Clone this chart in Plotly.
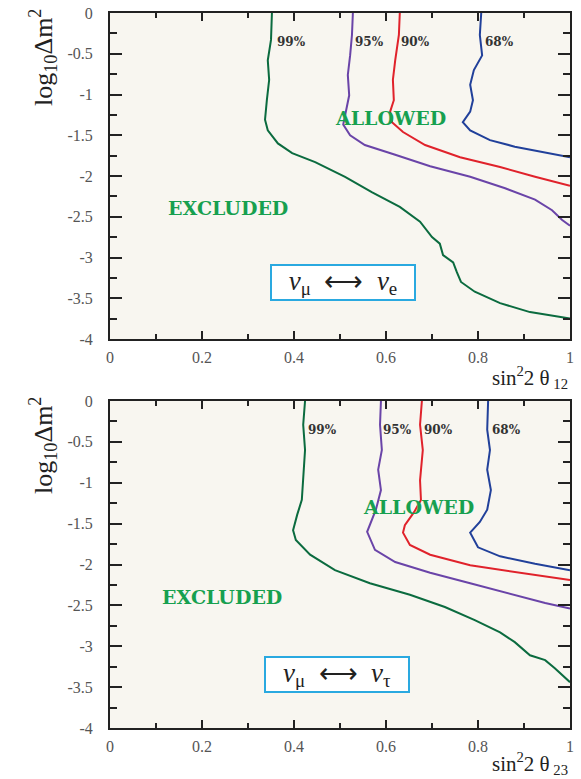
import plotly.graph_objects as go

# ---------------- data (sin^2 2theta, log10 dm^2) ----------------
levels = ["99%", "95%", "90%", "68%"]
colors = ["#0b6b3f", "#6a44a8", "#e0222b", "#21409a"]

# top panel: nu_mu <-> nu_e
top_99_x = [0.352, 0.350, 0.343, 0.346, 0.341, 0.337, 0.343, 0.365, 0.396, 0.446, 0.511, 0.570, 0.630,
            0.674, 0.700, 0.717, 0.724, 0.746, 0.754, 0.763, 0.793, 0.848, 0.913, 1.0]
top_99_y = [0.0, -0.33, -0.58, -0.82, -1.07, -1.31, -1.44, -1.60, -1.72, -1.83, -2.01, -2.20, -2.38,
            -2.56, -2.75, -2.83, -2.97, -3.06, -3.18, -3.30, -3.42, -3.56, -3.67, -3.75]
top_95_x = [0.528, 0.526, 0.522, 0.517, 0.520, 0.511, 0.507, 0.522, 0.554, 0.620, 0.696, 0.783, 0.859,
            0.924, 0.961, 0.983, 1.0]
top_95_y = [0.0, -0.27, -0.52, -0.76, -1.01, -1.25, -1.37, -1.50, -1.62, -1.74, -1.88, -2.01, -2.15,
            -2.29, -2.42, -2.54, -2.61]
top_90_x = [0.630, 0.628, 0.620, 0.615, 0.617, 0.609, 0.613, 0.637, 0.685, 0.761, 0.848, 0.924, 1.0]
top_90_y = [0.0, -0.27, -0.58, -0.82, -1.07, -1.21, -1.34, -1.46, -1.62, -1.77, -1.89, -2.01, -2.12]
top_68_x = [0.807, 0.804, 0.809, 0.791, 0.783, 0.789, 0.783, 0.767, 0.783, 0.826, 0.880, 0.946, 1.0]
top_68_y = [0.0, -0.27, -0.52, -0.70, -0.88, -1.07, -1.21, -1.34, -1.44, -1.56, -1.64, -1.71, -1.77]

# bottom panel: nu_mu <-> nu_tau
bot_99_x = [0.424, 0.420, 0.424, 0.420, 0.417, 0.407, 0.398, 0.404, 0.435, 0.489, 0.565, 0.652, 0.728,
            0.793, 0.848, 0.880, 0.913, 0.946, 0.967, 1.0]
bot_99_y = [0.0, -0.29, -0.60, -0.91, -1.21, -1.39, -1.58, -1.70, -1.88, -2.07, -2.23, -2.37, -2.52,
            -2.68, -2.83, -2.95, -3.11, -3.17, -3.27, -3.44]
bot_95_x = [0.589, 0.587, 0.591, 0.583, 0.589, 0.578, 0.559, 0.576, 0.620, 0.696, 0.783, 0.870, 0.946, 1.0]
bot_95_y = [0.0, -0.29, -0.60, -0.84, -1.09, -1.33, -1.60, -1.82, -1.97, -2.10, -2.23, -2.36, -2.47, -2.54]
bot_90_x = [0.678, 0.674, 0.680, 0.674, 0.676, 0.661, 0.641, 0.637, 0.652, 0.696, 0.783, 0.891, 1.0]
bot_90_y = [0.0, -0.29, -0.60, -0.97, -1.21, -1.36, -1.52, -1.61, -1.76, -1.88, -2.01, -2.10, -2.19]
bot_68_x = [0.822, 0.820, 0.826, 0.820, 0.828, 0.820, 0.804, 0.783, 0.800, 0.848, 0.924, 1.0]
bot_68_y = [0.0, -0.35, -0.60, -0.84, -1.09, -1.33, -1.48, -1.61, -1.79, -1.90, -1.99, -2.07]

# level label positions (x at label centre)
top_label_x = [0.394, 0.565, 0.665, 0.846]
bot_label_x = [0.461, 0.624, 0.715, 0.863]
label_y = -0.36

x_ticks = [0, 0.2, 0.4, 0.6, 0.8, 1.0]
x_ticktext = ["0", "0.2", "0.4", "0.6", "0.8", "1"]
y_ticks = [0, -0.5, -1, -1.5, -2, -2.5, -3, -3.5, -4]
y_ticktext = ["0", "-0.5", "-1", "-1.5", "-2", "-2.5", "-3", "-3.5", "-4"]

# ---------------- figure ----------------
W, H = 581, 779
fig = go.Figure()

top_curves = [(top_99_x, top_99_y), (top_95_x, top_95_y), (top_90_x, top_90_y), (top_68_x, top_68_y)]
bot_curves = [(bot_99_x, bot_99_y), (bot_95_x, bot_95_y), (bot_90_x, bot_90_y), (bot_68_x, bot_68_y)]

for (cx, cy), col in zip(top_curves, colors):
    fig.add_trace(go.Scatter(x=cx, y=cy, mode="lines", line=dict(color=col, width=2),
                             xaxis="x", yaxis="y", showlegend=False, hoverinfo="skip"))
for (cx, cy), col in zip(bot_curves, colors):
    fig.add_trace(go.Scatter(x=cx, y=cy, mode="lines", line=dict(color=col, width=2),
                             xaxis="x2", yaxis="y2", showlegend=False, hoverinfo="skip"))

serif = "Liberation Serif"
bold_serif = "DejaVu Serif"

def xax(anchor, domain):
    return dict(domain=domain, anchor=anchor, range=[0, 1], tickvals=x_ticks, ticktext=x_ticktext,
                ticks="inside", ticklen=8, tickwidth=1.5, tickcolor="#222", mirror="allticks",
                showline=True, linecolor="#222", linewidth=2, showgrid=False, zeroline=False,
                automargin=False, ticklabelstandoff=3,
                minor=dict(dtick=0.1, ticks="inside", ticklen=5, tickwidth=1.5, tickcolor="#222", showgrid=False),
                tickfont=dict(family=serif, size=16, color="#555"), fixedrange=True)

def yax(anchor, domain):
    return dict(domain=domain, anchor=anchor, range=[-4, 0], tickvals=y_ticks, ticktext=y_ticktext,
                ticks="inside", ticklen=12, tickwidth=1.5, tickcolor="#222", mirror="allticks",
                showline=True, linecolor="#222", linewidth=2, showgrid=False, zeroline=False,
                automargin=False, ticklabelstandoff=12,
                minor=dict(dtick=0.25, ticks="inside", ticklen=7, tickwidth=1.5, tickcolor="#222", showgrid=False),
                tickfont=dict(family=serif, size=16, color="#555"), fixedrange=True)

xd = [110 / W, 570 / W]
fig.update_layout(
    width=W, height=H,
    margin=dict(l=0, r=0, t=0, b=0, autoexpand=False),
    paper_bgcolor="white", plot_bgcolor="#f8f6f0",
    xaxis=xax("y", xd), yaxis=yax("x", [(H - 339) / H, (H - 13) / H]),
    xaxis2=xax("y2", xd), yaxis2=yax("x2", [(H - 728) / H, (H - 401) / H]),
)

ann = []
green_txt = "#17a04f"
for xs, xr, yr in [(top_label_x, "x", "y"), (bot_label_x, "x2", "y2")]:
    for lx, lab in zip(xs, levels):
        ann.append(dict(x=lx, y=label_y, xref=xr, yref=yr, text=lab, showarrow=False,
                        font=dict(family=bold_serif, size=12, color="#333", weight="bold")))

ann.append(dict(x=0.609, y=-1.29, xref="x", yref="y", text="ALLOWED", showarrow=False,
                font=dict(family=bold_serif, size=19, color=green_txt, weight="bold")))
ann.append(dict(x=0.670, y=-1.30, xref="x2", yref="y2", text="ALLOWED", showarrow=False,
                font=dict(family=bold_serif, size=19, color=green_txt, weight="bold")))
ann.append(dict(x=0.257, y=-2.39, xref="x", yref="y", text="EXCLUDED", showarrow=False,
                font=dict(family=bold_serif, size=19, color=green_txt, weight="bold")))
ann.append(dict(x=0.243, y=-2.40, xref="x2", yref="y2", text="EXCLUDED", showarrow=False,
                font=dict(family=bold_serif, size=19, color=green_txt, weight="bold")))

ann.append(dict(x=0.507, y=-3.31, xref="x", yref="y",
                text="<i>ν</i><sub>μ</sub>  ⟷  <i>ν</i><sub>e</sub>", showarrow=False,
                width=140, height=31, bgcolor="white", bordercolor="#2aa9e0", borderwidth=2,
                font=dict(family=serif, size=27, color="#222")))
ann.append(dict(x=0.493, y=-3.34, xref="x2", yref="y2",
                text="<i>ν</i><sub>μ</sub>  ⟷  <i>ν</i><sub>τ</sub>", showarrow=False,
                width=140, height=31, bgcolor="white", bordercolor="#2aa9e0", borderwidth=2,
                font=dict(family=serif, size=27, color="#222")))

for yc in [(H - 58) / H, (H - 446) / H]:
    ann.append(dict(x=43 / W, y=yc, xref="paper", yref="paper", textangle=-90,
                    xanchor="center", yanchor="middle",
                    text="log<sub>10</sub>Δm<sup>2</sup>", showarrow=False,
                    font=dict(family=serif, size=26, color="#222")))

ann.append(dict(x=570 / W, y=(H - 377) / H, xref="paper", yref="paper", xanchor="right",
                yanchor="middle",
                text="sin<sup>2</sup>2 θ<sub> 12</sub>", showarrow=False,
                font=dict(family=serif, size=21, color="#222")))
ann.append(dict(x=570 / W, y=(H - 763) / H, xref="paper", yref="paper", xanchor="right",
                yanchor="middle",
                text="sin<sup>2</sup>2 θ<sub> 23</sub>", showarrow=False,
                font=dict(family=serif, size=21, color="#222")))

fig.update_layout(annotations=ann)
fig.write_html("out.html", config={"displayModeBar": False},
               post_script="document.body.style.margin='0';document.body.style.overflow='hidden';")
